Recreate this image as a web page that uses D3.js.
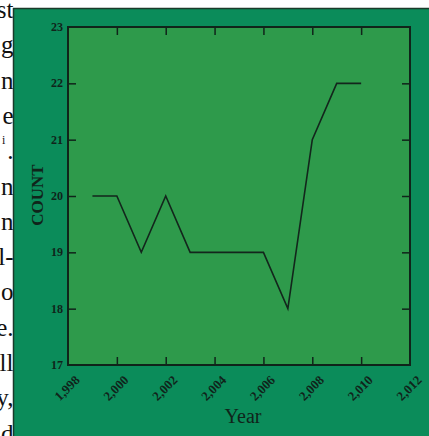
<!DOCTYPE html>
<html>
<head>
<meta charset="utf-8">
<script src="https://cdnjs.cloudflare.com/ajax/libs/d3/7.8.5/d3.min.js"></script>
<style>
  body { margin: 0; background: #fff; }
  svg { display: block; }
</style>
</head>
<body>
<svg id="my_chart" width="429" height="436"></svg>
<script>
// data
var years  = [1999, 2000, 2001, 2002, 2003, 2004, 2005, 2006, 2007, 2008, 2009, 2010];
var counts = [20, 20, 19, 20, 19, 19, 19, 19, 18, 21, 22, 22];
var xTicks = [1998, 2000, 2002, 2004, 2006, 2008, 2010, 2012];
var yTicks = [17, 18, 19, 20, 21, 22, 23];

// clipped words of the page text beside the figure
var pageBits = ["st", "g", "n", "e", "i.", "n", "n", "l-", "o", "e.", "ll", "y,", "d"];

var svg = d3.select("#my_chart");

// page text on the left, cut off by the figure
svg.append("g")
  .selectAll("text")
  .data(pageBits)
  .enter()
  .append("text")
  .attr("x", 13.5)
  .attr("y", function(d, i) { return 18 + i * 35.3; })
  .attr("text-anchor", "end")
  .attr("font-family", "Liberation Serif, serif")
  .attr("font-size", "25px")
  .attr("fill", "#111")
  .each(function(d) {
      var t = d3.select(this);
      if (d === "i.") {
          t.append("tspan").attr("font-size", "12px").attr("dy", -15).text("i");
          t.append("tspan").attr("dx", 2).attr("dy", 15).text(".");
      } else {
          t.text(d);
      }
  });

// green backing panel
svg.append("rect")
  .attr("x", 14).attr("y", 9)
  .attr("width", 429 - 14).attr("height", 436 - 9)
  .attr("fill", "#0b8c5a");
svg.append("line")
  .attr("x1", 13).attr("x2", 429).attr("y1", 8.5).attr("y2", 8.5)
  .attr("stroke", "#1b3a2a").attr("stroke-width", 1.5);
svg.append("line")
  .attr("x1", 13.5).attr("x2", 13.5).attr("y1", 8).attr("y2", 436)
  .attr("stroke", "#1b3a2a").attr("stroke-width", 1.5);

// plot area
var plot = {left: 68, right: 410, top: 27, bottom: 365};

var x = d3.scaleLinear()
  .domain([1998, 2012])
  .range([plot.left, plot.right]);

var y = d3.scaleLinear()
  .domain([17, 23])
  .range([plot.bottom, plot.top]);

svg.append("rect")
  .attr("x", plot.left).attr("y", plot.top)
  .attr("width", plot.right - plot.left)
  .attr("height", plot.bottom - plot.top)
  .attr("fill", "#2e9a4b");

var font = "Liberation Serif, Times New Roman, serif";
var ink = "#10241a";

// inner ticks on all four sides
var xInner = xTicks.filter(function(d) { return d > 1998 && d < 2012; });
var yInner = yTicks.filter(function(d) { return d > 17 && d < 23; });

svg.append("g")
  .attr("transform", "translate(0," + plot.bottom + ")")
  .call(d3.axisBottom(x).tickValues(xInner).tickSize(-8).tickFormat(""))
  .call(function(g) { g.select(".domain").remove(); })
  .selectAll("line").attr("stroke", ink).attr("stroke-width", 1.5);

svg.append("g")
  .attr("transform", "translate(0," + plot.top + ")")
  .call(d3.axisTop(x).tickValues(xInner).tickSize(-8).tickFormat(""))
  .call(function(g) { g.select(".domain").remove(); })
  .selectAll("line").attr("stroke", ink).attr("stroke-width", 1.5);

svg.append("g")
  .attr("transform", "translate(" + plot.left + ",0)")
  .call(d3.axisLeft(y).tickValues(yInner).tickSize(-8).tickFormat(""))
  .call(function(g) { g.select(".domain").remove(); })
  .selectAll("line").attr("stroke", ink).attr("stroke-width", 1.5);

svg.append("g")
  .attr("transform", "translate(" + plot.right + ",0)")
  .call(d3.axisRight(y).tickValues(yInner).tickSize(-8).tickFormat(""))
  .call(function(g) { g.select(".domain").remove(); })
  .selectAll("line").attr("stroke", ink).attr("stroke-width", 1.5);

// frame
svg.append("rect")
  .attr("x", plot.left).attr("y", plot.top)
  .attr("width", plot.right - plot.left)
  .attr("height", plot.bottom - plot.top)
  .attr("fill", "none")
  .attr("stroke", ink)
  .attr("stroke-width", 2);

// tick labels
svg.selectAll("text.xlab")
  .data(xTicks)
  .enter()
  .append("text")
  .attr("class", "xlab")
  .attr("transform", function(d) { return "translate(" + (x(d) - 1) + ",388) rotate(-45)"; })
  .attr("text-anchor", "middle")
  .attr("dominant-baseline", "central")
  .attr("font-family", font)
  .attr("font-size", "13px")
  .attr("font-weight", "bold")
  .attr("fill", ink)
  .text(function(d) { return d3.format(",")(d); });

svg.selectAll("text.ylab")
  .data(yTicks)
  .enter()
  .append("text")
  .attr("class", "ylab")
  .attr("x", 63)
  .attr("y", function(d) { return y(d) + 4; })
  .attr("text-anchor", "end")
  .attr("font-family", font)
  .attr("font-size", "12px")
  .attr("font-weight", "bold")
  .attr("fill", ink)
  .text(function(d) { return d; });

// axis titles
svg.append("text")
  .attr("x", 243).attr("y", 423)
  .attr("text-anchor", "middle")
  .attr("font-family", font)
  .attr("font-size", "20px")
  .attr("fill", ink)
  .text("Year");

svg.append("text")
  .attr("transform", "translate(43,195) rotate(-90)")
  .attr("text-anchor", "middle")
  .attr("font-family", font)
  .attr("font-size", "17px")
  .attr("font-weight", "bold")
  .attr("fill", ink)
  .text("COUNT");

// the series
var line = d3.line()
  .x(function(d, i) { return x(years[i]); })
  .y(function(d) { return y(d); });

svg.append("path")
  .datum(counts)
  .attr("d", line)
  .attr("fill", "none")
  .attr("stroke", "#13261c")
  .attr("stroke-width", 1.6);
</script>
</body>
</html>
